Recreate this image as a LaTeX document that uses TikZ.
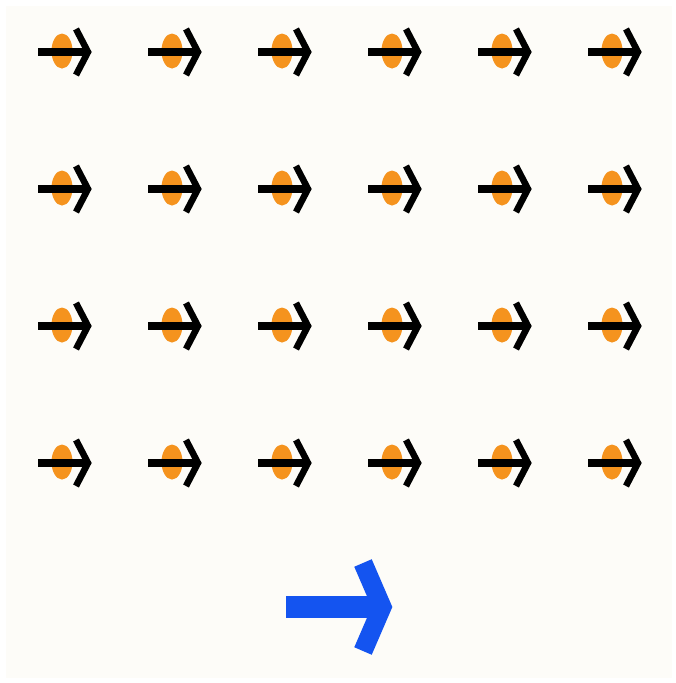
\documentclass[tikz,border=0pt]{standalone}
\definecolor{bgc}{HTML}{FDFCF8}
\definecolor{dotc}{HTML}{F5931E}
\definecolor{bluec}{HTML}{1454F0}
\begin{document}
\begin{tikzpicture}[x=1pt,y=-1pt,
  shaft/.style={line width=8pt,line cap=butt,black},
  chev/.style={line width=6.5pt,line join=miter,line cap=butt,black},
  bigshaft/.style={line width=22pt,line cap=butt,bluec},
  bigchev/.style={line width=19pt,line join=miter,line cap=butt,bluec}]
\fill[white] (0,0) rectangle (676,683);
\useasboundingbox (0,0) rectangle (676,683);
\fill[bgc] (6,6) rectangle (672,678);
\foreach \cx in {0,110,220,330,440,550}{
  \foreach \cy in {52,189,326,463}{
    \fill[dotc] (62+\cx,\cy-1) ellipse [x radius=10.5, y radius=17.5];
    \draw[shaft] (38+\cx,\cy) -- (89+\cx,\cy);
    \draw[chev] (76+\cx,\cy-23) -- (88+\cx,\cy) -- (76+\cx,\cy+23);
  }
}
\draw[bigshaft] (286,607) -- (384,607);
\draw[bigchev] (363,563) -- (382,607) -- (363,651);
\end{tikzpicture}
\end{document}
